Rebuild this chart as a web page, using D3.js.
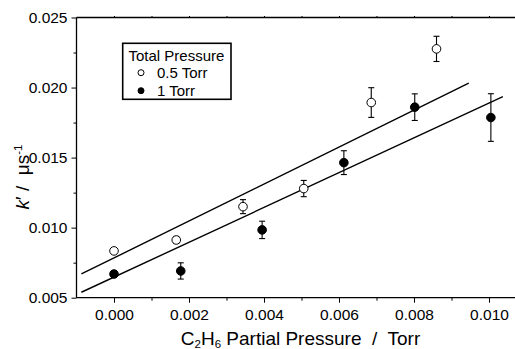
<!DOCTYPE html>
<html>
<head>
<meta charset="utf-8">
<script src="https://cdn.jsdelivr.net/npm/d3@7"></script>
<style>
  html, body { margin: 0; padding: 0; background: #fff; }
  svg { display: block; font-family: "Liberation Sans", Arial, sans-serif; }
</style>
</head>
<body>
<svg id="chart" width="515" height="349"></svg>
<script>
// ---- data ----
const openX   = [0.00000, 0.00166, 0.00344, 0.00506, 0.00686, 0.00860];
const openY   = [0.00834, 0.00912, 0.01150, 0.01279, 0.01893, 0.02276];
const openErr = [0.00020, 0.00025, 0.00050, 0.00058, 0.00106, 0.00090];

const fillX   = [0.00000, 0.00178, 0.00395, 0.00613, 0.00802, 0.01005];
const fillY   = [0.00669, 0.00691, 0.00984, 0.01464, 0.01860, 0.01786];
const fillErr = [0.00020, 0.00058, 0.00062, 0.00085, 0.00095, 0.00170];

const fitIntercept = [0.00784, 0.00647];
const fitSlope     = [1.318, 1.243];
const fitXStart    = [-0.00087, -0.00087];
const fitXEnd      = [0.00946, 0.01037];

const xTicks = [0.000, 0.002, 0.004, 0.006, 0.008, 0.010];
const yTicks = [0.005, 0.010, 0.015, 0.020, 0.025];
const legendLabels = ["0.5 Torr", "1 Torr"];

// ---- layout ----
const svg = d3.select("#chart");
const x = d3.scaleLinear().domain([-0.001, 0.011]).range([76.5, 526.5]);
const y = d3.scaleLinear().domain([0.005, 0.025]).range([297.7, 17.5]);
const fmt = d3.format(".3f");

// axes
const xMinor = d3.range(-0.001, 0.0111, 0.001).filter(v => v > -0.0009);
const yMinor = d3.range(0.0075, 0.025, 0.005);

const gx = svg.append("g").attr("transform", `translate(0,${y(0.005)})`)
  .call(d3.axisBottom(x).tickValues(xTicks).tickFormat(fmt).tickSize(5).tickPadding(6.5));
const gxm = svg.append("g").attr("transform", `translate(0,${y(0.005)})`)
  .call(d3.axisBottom(x).tickValues(xMinor.filter(v => !xTicks.some(t => Math.abs(t - v) < 1e-9))).tickFormat("").tickSize(3));
gxm.select(".domain").remove();

const gy = svg.append("g").attr("transform", `translate(${x(-0.001)},0)`)
  .call(d3.axisLeft(y).tickValues(yTicks).tickFormat(fmt).tickSize(5).tickPadding(4));
const gym = svg.append("g").attr("transform", `translate(${x(-0.001)},0)`)
  .call(d3.axisLeft(y).tickValues(yMinor).tickFormat("").tickSize(3));
gym.select(".domain").remove();

const gt = svg.append("g").attr("transform", `translate(0,${y(0.025)})`)
  .call(d3.axisTop(x).tickValues(xMinor).tickFormat("").tickSize(1.5));

[gx, gy, gt].forEach(g => {
  g.select(".domain").attr("stroke", "#000").attr("stroke-width", 1.3);
});
gx.select(".domain").attr("d", `M${x(-0.001)},0H${x(0.011)}`);
gy.select(".domain").attr("d", `M0,${y(0.005)}V${y(0.025)}`);
gt.select(".domain").attr("d", `M${x(-0.001)},0H${x(0.011)}`);
svg.selectAll(".tick line").attr("stroke", "#000").attr("stroke-width", 1);
svg.selectAll(".tick text").attr("fill", "#000").style("font-size", "15.5px")
  .style("font-family", '"Liberation Sans", Arial, sans-serif');

// fit lines
const fits = fitSlope.map((s, i) => ({ s, b: fitIntercept[i], x0: fitXStart[i], x1: fitXEnd[i] }));
svg.append("g").selectAll("line").data(fits).join("line")
  .attr("x1", d => x(d.x0)).attr("y1", d => y(d.b + d.s * d.x0))
  .attr("x2", d => x(d.x1)).attr("y2", d => y(d.b + d.s * d.x1))
  .attr("stroke", "#000").attr("stroke-width", 1.4);

// data series
const series = [
  { xs: openX, ys: openY, es: openErr, fill: "#fff" },
  { xs: fillX, ys: fillY, es: fillErr, fill: "#000" }
];
series.forEach(sr => {
  const pts = sr.xs.map((v, i) => ({ x: v, y: sr.ys[i], e: sr.es[i] }));
  const g = svg.append("g");
  const eb = g.selectAll("g.eb").data(pts).join("g").attr("class", "eb")
    .attr("stroke", "#000").attr("stroke-width", 1.1);
  eb.append("line").attr("x1", d => x(d.x)).attr("x2", d => x(d.x))
    .attr("y1", d => y(d.y - d.e)).attr("y2", d => y(d.y + d.e));
  eb.append("line").attr("x1", d => x(d.x) - 3).attr("x2", d => x(d.x) + 3)
    .attr("y1", d => y(d.y + d.e)).attr("y2", d => y(d.y + d.e));
  eb.append("line").attr("x1", d => x(d.x) - 3).attr("x2", d => x(d.x) + 3)
    .attr("y1", d => y(d.y - d.e)).attr("y2", d => y(d.y - d.e));
  g.selectAll("circle").data(pts).join("circle")
    .attr("cx", d => x(d.x)).attr("cy", d => y(d.y)).attr("r", 4.3)
    .attr("fill", sr.fill).attr("stroke", "#000").attr("stroke-width", 1);
});

// legend
const lg = svg.append("g");
lg.append("rect").attr("x", 122.7).attr("y", 43.3).attr("width", 108.3).attr("height", 56)
  .attr("fill", "#fff").attr("stroke", "#000").attr("stroke-width", 1.6);
lg.append("text").attr("x", 128.5).attr("y", 61).style("font-size", "15px").text("Total Pressure");
legendLabels.forEach((lab, i) => {
  const cy = 72.7 + i * 18;
  lg.append("circle").attr("cx", 141).attr("cy", cy).attr("r", 3)
    .attr("fill", series[i].fill).attr("stroke", "#000").attr("stroke-width", 1);
  lg.append("text").attr("x", 157).attr("y", cy + 5.5).style("font-size", "15px").text(lab);
});

// axis titles
const xt = svg.append("text").attr("x", 300.5).attr("y", 344.5).attr("text-anchor", "middle")
  .style("font-size", "19px").style("white-space", "pre");
xt.append("tspan").text("C");
xt.append("tspan").attr("dy", 3).style("font-size", "11.5px").text("2");
xt.append("tspan").attr("dy", -3).text("H");
xt.append("tspan").attr("dy", 3).style("font-size", "11.5px").text("6");
xt.append("tspan").attr("dy", -3).text(" Partial Pressure  /  Torr");

const yt = svg.append("text").attr("transform", "translate(29,177) rotate(-90)")
  .attr("text-anchor", "middle").style("font-size", "19px").style("white-space", "pre");
yt.append("tspan").style("font-style", "italic").text("k");
yt.append("tspan").text("′ /  μs");
yt.append("tspan").attr("dy", -7).style("font-size", "11.5px").text("-1");
</script>
</body>
</html>
